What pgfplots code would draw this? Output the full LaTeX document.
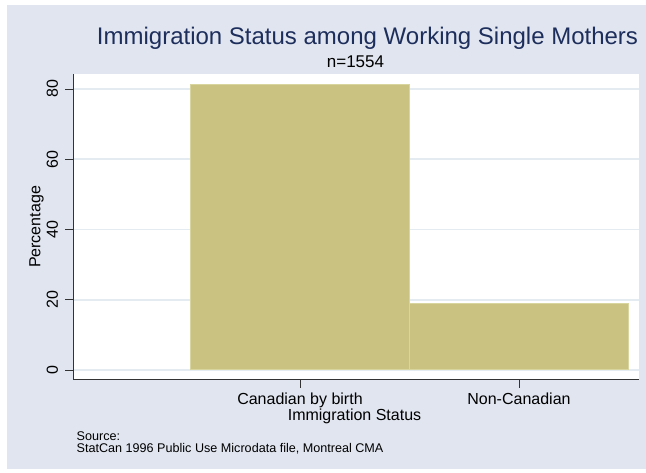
\documentclass[border=0pt]{standalone}
\usepackage{fontspec}
\setmainfont{Liberation Sans}
\usepackage{pgfplots}
\pgfplotsset{compat=1.18}
\definecolor{bgc}{HTML}{E0E5EF}
\definecolor{barc}{HTML}{CAC280}
\definecolor{baredge}{HTML}{D9D59E}
\definecolor{gridc}{HTML}{E4EBF1}
\definecolor{titlec}{HTML}{1E2E5C}
\definecolor{axc}{HTML}{333333}
\begin{document}
\begin{tikzpicture}[x=1pt,y=1pt]
\path[fill=white] (0,0) rectangle (646,472);
\fill[bgc] (7,3) rectangle (646,467);
\begin{axis}[
  at={(73pt,92pt)}, anchor=south west,
  scale only axis, width=566pt, height=306pt,
  axis background/.style={fill=white},
  xmin=-0.0365, xmax=2.548,
  ymin=-2.85, ymax=84.27,
  axis x line*=bottom, axis y line*=left,
  axis line style={draw=axc, line width=1pt, -},
  xtick={1,2}, xticklabels={Canadian by birth, Non-Canadian},
  ytick={0,20,40,60,80},
  tick align=outside, major tick length=7.5pt,
  tick style={draw=axc, line width=0.8pt},
  ymajorgrids, grid style={draw=gridc, line width=1.6pt},
  tick label style={font=\fontsize{16}{19}\selectfont, text=black},
  xticklabel style={yshift=-2pt},
  yticklabel style={xshift=-4pt, rotate=90, anchor=south},
  /pgf/number format/assume math mode=true,
  ylabel={Percentage}, ylabel style={font=\fontsize{16}{19}\selectfont, yshift=-4pt},
  xlabel={Immigration Status}, xlabel style={font=\fontsize{16}{19}\selectfont, yshift=5.5pt, xshift=-1.5pt},
  ybar, bar width=219pt, bar shift=0pt,
]
\addplot[fill=barc, draw=baredge, line width=1pt] coordinates {(1,81.2) (2,18.8)};
\end{axis}
\node[anchor=base, text=titlec, font=\fontsize{24}{28}\selectfont] at (367.5,427) {Immigration Status among Working Single Mothers};
\node[anchor=base, font=\fontsize{17}{20}\selectfont] at (355.5,404) {n=1554};
\node[anchor=base west, font=\fontsize{12.6}{15}\selectfont, inner sep=0pt] at (76.5,32) {Source:};
\node[anchor=base west, font=\fontsize{12.6}{15}\selectfont, inner sep=0pt] at (76.5,19.7) {StatCan 1996 Public Use Microdata file, Montreal CMA};
\end{tikzpicture}
\end{document}
